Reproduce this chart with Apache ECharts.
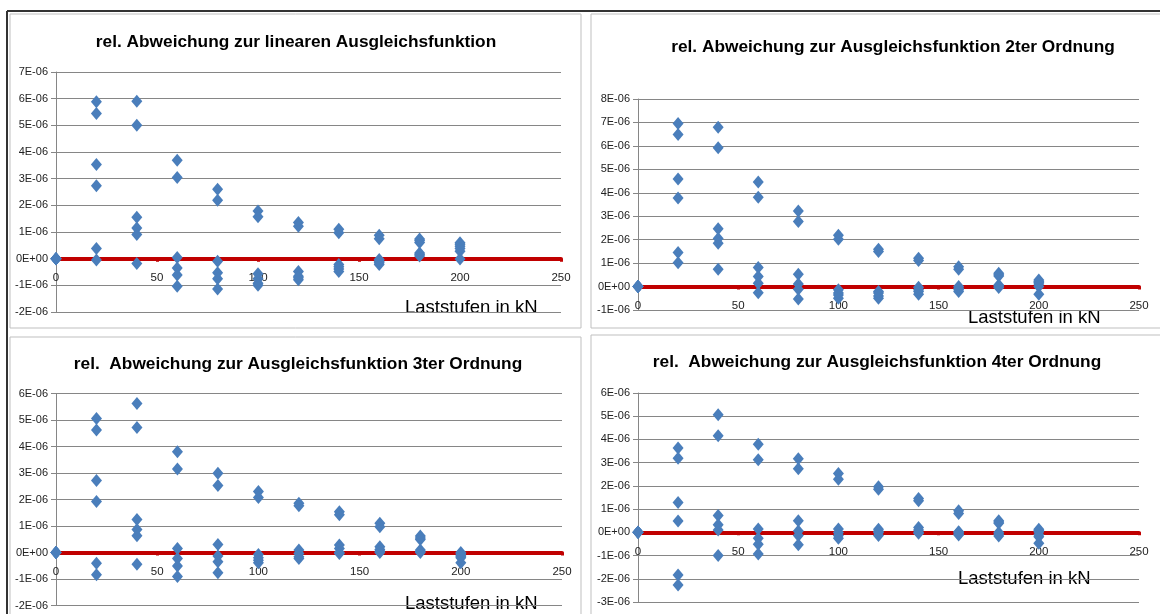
<!DOCTYPE html>
<html>
<head>
<meta charset="utf-8">
<script src="https://cdn.jsdelivr.net/npm/echarts@6/dist/echarts.min.js"></script>
<style>
html,body{margin:0;padding:0;background:#fff;}
#chart{width:1160px;height:614px;}
</style>
</head>
<body>
<div id="chart"></div>
<script>
// Load steps (kN)
const loads = [0, 20, 40, 60, 80, 100, 120, 140, 160, 180, 200];

// Relative deviations, in units of 1E-06, six readings per load step
const devLinear = [
  [0, 0, 0, 0, 0, 0],
  [5.88, 5.44, 3.53, 2.73, 0.38, -0.05],
  [5.9, 5.0, 1.55, 1.15, 0.91, -0.18],
  [3.69, 3.04, 0.04, -0.35, -0.61, -1.03],
  [2.6, 2.19, -0.1, -0.53, -0.75, -1.14],
  [1.79, 1.57, -0.57, -0.75, -0.92, -1.0],
  [1.36, 1.22, -0.48, -0.66, -0.79, -0.72],
  [1.1, 0.97, -0.22, -0.39, -0.48, -0.3],
  [0.88, 0.75, -0.03, -0.15, -0.22, -0.1],
  [0.74, 0.61, 0.21, 0.1, 0.16, 0.68],
  [0.6, 0.47, 0.28, -0.01, 0.54, 0.38]
];
const devOrder2 = [
  [0, 0, 0, 0, 0, 0],
  [6.96, 6.49, 4.59, 3.78, 1.45, 1.02],
  [6.8, 5.92, 2.47, 2.05, 1.85, 0.74],
  [4.46, 3.81, 0.81, 0.43, 0.14, -0.26],
  [3.22, 2.78, 0.53, 0.11, -0.11, -0.53],
  [2.19, 2.02, -0.14, -0.36, -0.5, -0.28],
  [1.59, 1.5, -0.21, -0.4, -0.5, -0.28],
  [1.21, 1.11, -0.03, -0.21, -0.33, -0.14],
  [0.85, 0.74, -0.07, -0.21, -0.14, 0.0],
  [0.57, 0.45, 0.07, -0.04, 0.02, 0.5],
  [0.28, 0.17, 0.0, -0.33, 0.11, 0.22]
];
const devOrder3 = [
  [0, 0, 0, 0, 0, 0],
  [5.06, 4.62, 2.72, 1.92, -0.41, -0.84],
  [5.62, 4.72, 1.25, 0.87, 0.63, -0.44],
  [3.8, 3.15, 0.15, -0.23, -0.51, -0.91],
  [2.99, 2.53, 0.3, -0.13, -0.35, -0.76],
  [2.3, 2.08, -0.08, -0.29, -0.39, -0.2],
  [1.86, 1.76, 0.09, -0.04, -0.16, -0.23],
  [1.54, 1.42, 0.28, 0.15, 0.0, -0.04],
  [1.1, 0.97, 0.22, 0.11, 0.0, 0.05],
  [0.62, 0.49, 0.09, 0.0, 0.04, 0.55],
  [0.0, -0.1, -0.2, -0.39, -0.05, -0.15]
];
const devOrder4 = [
  [0, 0, 0, 0, 0, 0],
  [3.63, 3.19, 1.29, 0.49, -1.84, -2.27],
  [5.06, 4.16, 0.73, 0.33, 0.1, -1.0],
  [3.79, 3.13, 0.14, -0.26, -0.51, -0.93],
  [3.17, 2.74, 0.5, 0.06, -0.14, -0.54],
  [2.53, 2.29, 0.14, -0.01, -0.14, -0.26],
  [1.96, 1.86, 0.13, -0.01, -0.14, 0.05],
  [1.46, 1.36, 0.21, 0.1, -0.04, 0.0],
  [0.93, 0.81, 0.03, -0.07, -0.11, 0.0],
  [0.5, 0.39, -0.01, -0.16, -0.08, 0.45],
  [0.13, 0.03, -0.19, -0.47, 0.08, -0.1]
];

const titles = [
  'rel. Abweichung zur linearen Ausgleichsfunktion',
  'rel. Abweichung zur Ausgleichsfunktion 2ter Ordnung',
  'rel.  Abweichung zur Ausgleichsfunktion 3ter Ordnung',
  'rel.  Abweichung zur Ausgleichsfunktion 4ter Ordnung'
];
const yRanges = [[-2, 7], [-1, 8], [-2, 6], [-3, 6]];
const xTicks = { min: 0, max: 250, interval: 50 };
const xAxisName = 'Laststufen in kN';

// layout (pixels)
const panels = [
  { grid: { left: 56, top: 72, width: 505, height: 240 }, title: [296, 42], name: [405, 308], box: [10, 14, 571, 314] },
  { grid: { left: 638, top: 99, width: 501, height: 211 }, title: [893, 47], name: [968, 318], box: [591, 14, 580, 314] },
  { grid: { left: 56, top: 393.5, width: 506, height: 212 }, title: [298, 364], name: [405, 604], box: [10, 337, 571, 290] },
  { grid: { left: 638, top: 393, width: 501, height: 209 }, title: [877, 362], name: [958, 579], box: [591, 335, 580, 290] }
];
const devs = [devLinear, devOrder2, devOrder3, devOrder4];

const narrow = '"Liberation Sans Narrow", "Liberation Sans", Arial, sans-serif';
const gridColor = '#868686';

function buildPoints(dev) {
  const pts = [];
  loads.forEach((x, i) => dev[i].forEach(v => pts.push([x, v])));
  return pts;
}
function fmtY(v) {
  const n = Math.round(v);
  return n === 0 ? '0E+00' : n + 'E-06';
}
// shift the x axis (line, ticks, labels) up to the y = 0 position
function zeroOffset(i) {
  const h = panels[i].grid.height, r = yRanges[i];
  return -h * (0 - r[0]) / (r[1] - r[0]);
}

const option = {
  animation: false,
  backgroundColor: '#ffffff',
  grid: panels.map(p => Object.assign({ containLabel: false }, p.grid)),
  xAxis: panels.map((p, i) => ({
    type: 'value', gridIndex: i, position: 'bottom',
    offset: zeroOffset(i),
    min: xTicks.min, max: xTicks.max, interval: xTicks.interval,
    axisLine: { onZero: false, lineStyle: { color: '#C00000', width: 4 } },
    axisTick: { show: true, length: 3, lineStyle: { color: '#C00000', width: 3 } },
    splitLine: { show: false },
    axisLabel: { fontFamily: narrow, fontSize: 11.5, color: '#222', margin: 13 }
  })),
  yAxis: panels.map((p, i) => ({
    type: 'value', gridIndex: i,
    min: yRanges[i][0], max: yRanges[i][1], interval: 1,
    axisLine: { show: true, onZero: false, lineStyle: { color: gridColor, width: 1 } },
    axisTick: { show: true, length: 5, lineStyle: { color: gridColor } },
    splitLine: { show: true, lineStyle: { color: gridColor, width: 1.2 } },
    axisLabel: { fontFamily: narrow, fontSize: 11, color: '#222', margin: 8, formatter: fmtY }
  })),
  series: devs.map((d, i) => ({
    type: 'scatter', xAxisIndex: i, yAxisIndex: i,
    symbol: 'diamond', symbolSize: [11, 13],
    itemStyle: { color: '#4A7EBB', opacity: 1 },
    data: buildPoints(d)
  })),
  graphic: [
    // outer dark frame lines (top + left)
    { type: 'line', shape: { x1: 7, y1: 11, x2: 1160, y2: 11 }, style: { stroke: '#333', lineWidth: 2 } },
    { type: 'line', shape: { x1: 7, y1: 11, x2: 7, y2: 614 }, style: { stroke: '#333', lineWidth: 2 } }
  ]
    .concat(panels.map(p => ({
      type: 'rect', z: -1,
      shape: { x: p.box[0], y: p.box[1], width: p.box[2], height: p.box[3] },
      style: { fill: 'none', stroke: '#bfbfbf', lineWidth: 1 }
    })))
    .concat(panels.map((p, i) => ({
      type: 'text', x: p.title[0], y: p.title[1],
      style: { text: titles[i], fill: '#000', font: 'bold 17.3px ' + narrow, textAlign: 'center', textVerticalAlign: 'middle' }
    })))
    .concat(panels.map(p => ({
      type: 'text', x: p.name[0], y: p.name[1],
      style: { text: xAxisName, fill: '#000', font: '18.5px "Liberation Sans", Arial, sans-serif', textAlign: 'left', textVerticalAlign: 'middle' }
    })))
};

const chart = echarts.init(document.getElementById('chart'), null, { renderer: 'canvas' });
chart.setOption(option);
</script>
</body>
</html>
